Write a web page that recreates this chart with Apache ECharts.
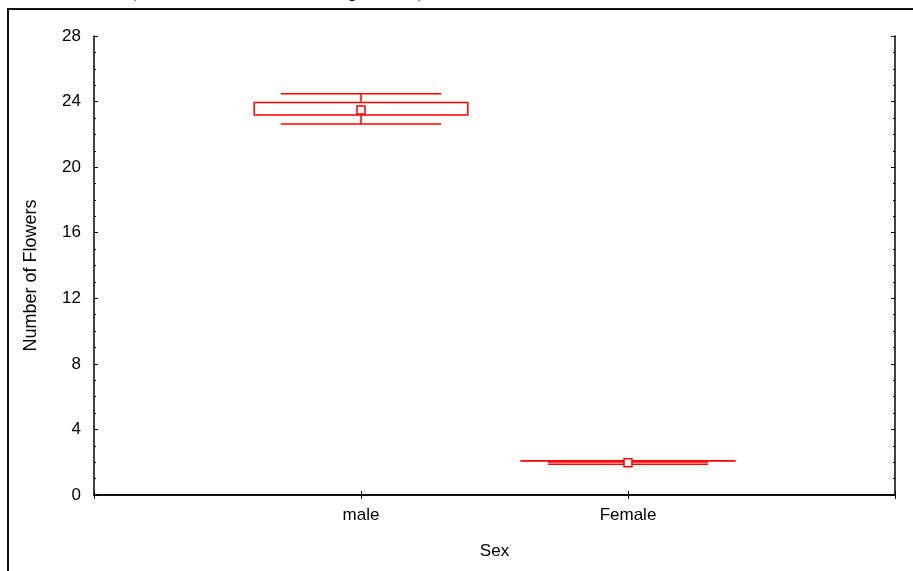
<!DOCTYPE html>
<html>
<head>
<meta charset="utf-8">
<script src="https://cdn.jsdelivr.net/npm/echarts@6/dist/echarts.min.js"></script>
<style>
    html, body { margin: 0; padding: 0; background: #fff; }
    #main { width: 913px; height: 571px; }
</style>
</head>
<body>
<div id="main"></div>
<script>
// 数据：均值、标准误箱体、须线
let categories = ['male', 'Female'];
let means = [23.49, 1.96];
let boxLow = [23.18, 2.08];
let boxHigh = [23.94, 2.09];
let whiskerLow = [22.63, 1.88];
let whiskerHigh = [24.47, 2.02];
let yTicks = [0, 4, 8, 12, 16, 20, 24, 28];

let fontFamily = '"Liberation Sans", Arial, sans-serif';

// 坐标轴两端各留一个空位置，类别落在 1/3 和 2/3 处
let axisData = [''].concat(categories, ['']);

let seriesData = categories.map((c, i) => [
    i + 1, means[i], boxLow[i], boxHigh[i], whiskerLow[i], whiskerHigh[i]
]);

function renderItem(params, api) {
    let idx = api.value(0);
    let x = api.coord([idx, 0])[0];
    let band = api.coord([2, 0])[0] - api.coord([1, 0])[0];
    let yMean = api.coord([idx, api.value(1)])[1];
    let yBoxLo = api.coord([idx, api.value(2)])[1];
    let yBoxHi = api.coord([idx, api.value(3)])[1];
    let yWLo = api.coord([idx, api.value(4)])[1];
    let yWHi = api.coord([idx, api.value(5)])[1];
    let boxW = band * 0.8;
    let wW = band * 0.6;
    let line = {stroke: '#ff0000', lineWidth: 1.5};
    return {
        type: 'group',
        children: [
            {type: 'rect', shape: {x: x - boxW / 2, y: yBoxHi, width: boxW, height: yBoxLo - yBoxHi},
                style: {stroke: '#ff0000', fill: null, lineWidth: 1.5}},
            {type: 'line', shape: {x1: x - wW / 2, y1: yWHi, x2: x + wW / 2, y2: yWHi}, style: line},
            {type: 'line', shape: {x1: x - wW / 2, y1: yWLo, x2: x + wW / 2, y2: yWLo}, style: line},
            {type: 'line', shape: {x1: x, y1: yWHi, x2: x, y2: yBoxHi}, style: line},
            {type: 'line', shape: {x1: x, y1: yBoxLo, x2: x, y2: yWLo}, style: line},
            {type: 'rect', shape: {x: x - 4, y: yMean - 4, width: 8, height: 8},
                style: {stroke: '#ff0000', fill: '#fff', lineWidth: 1.5}}
        ]
    };
}

let myChart = echarts.init(document.getElementById('main'));

let axisLine = {show: true, lineStyle: {color: '#000', width: 1.5}};
let tickStyle = {color: '#000', width: 1};

let option = {
    backgroundColor: '#fff',
    animation: false,
    grid: {left: 94, right: 18, top: 36, bottom: 76},
    graphic: [
        // 外框
        {type: 'rect', shape: {x: 8, y: 9, width: 940, height: 600},
            style: {fill: null, stroke: '#111', lineWidth: 2}},
        // 被裁掉的标题
        {type: 'text', x: 130, y: -7.6,
            style: {text: '(Mean Number of Flowers per Tree)', fill: '#000',
                font: 'bold 19px "Liberation Serif", "Times New Roman", serif',
                verticalAlign: 'middle'}}
    ],
    xAxis: [
        {
            type: 'category',
            data: axisData,
            boundaryGap: false,
            position: 'bottom',
            name: 'Sex',
            nameLocation: 'middle',
            nameGap: 48,
            nameTextStyle: {color: '#000', fontSize: 17, fontFamily: fontFamily},
            axisLine: axisLine,
            axisTick: {show: true, inside: true, length: 4, lineStyle: tickStyle},
            axisLabel: {color: '#000', fontSize: 17, fontFamily: fontFamily, margin: 12},
            splitLine: {show: false}
        },
        {
            type: 'category',
            data: axisData,
            boundaryGap: false,
            position: 'top',
            axisLine: axisLine,
            axisTick: {show: true, inside: true, length: 4, lineStyle: tickStyle},
            axisLabel: {show: false},
            splitLine: {show: false}
        }
    ],
    yAxis: [
        {
            type: 'value',
            min: yTicks[0],
            max: yTicks[yTicks.length - 1],
            interval: yTicks[1] - yTicks[0],
            position: 'left',
            name: 'Number of Flowers',
            nameLocation: 'middle',
            nameGap: 54,
            nameTextStyle: {color: '#000', fontSize: 18, fontFamily: fontFamily, padding: [0, 20, 0, 0]},
            axisLine: axisLine,
            axisTick: {show: true, inside: true, length: 4, lineStyle: tickStyle},
            minorTick: {show: true, splitNumber: 4, length: 2, lineStyle: tickStyle},
            axisLabel: {color: '#000', fontSize: 17, fontFamily: fontFamily, margin: 13},
            splitLine: {show: false}
        },
        {
            type: 'value',
            min: yTicks[0],
            max: yTicks[yTicks.length - 1],
            interval: yTicks[1] - yTicks[0],
            position: 'right',
            axisLine: axisLine,
            axisTick: {show: true, inside: true, length: 4, lineStyle: tickStyle},
            minorTick: {show: true, splitNumber: 4, length: 2, lineStyle: tickStyle},
            axisLabel: {show: false},
            splitLine: {show: false}
        }
    ],
    series: [
        {
            type: 'custom',
            renderItem: renderItem,
            data: seriesData,
            encode: {x: 0, y: [1, 2, 3, 4, 5]},
            clip: false
        }
    ]
};

myChart.setOption(option);
</script>
</body>
</html>
